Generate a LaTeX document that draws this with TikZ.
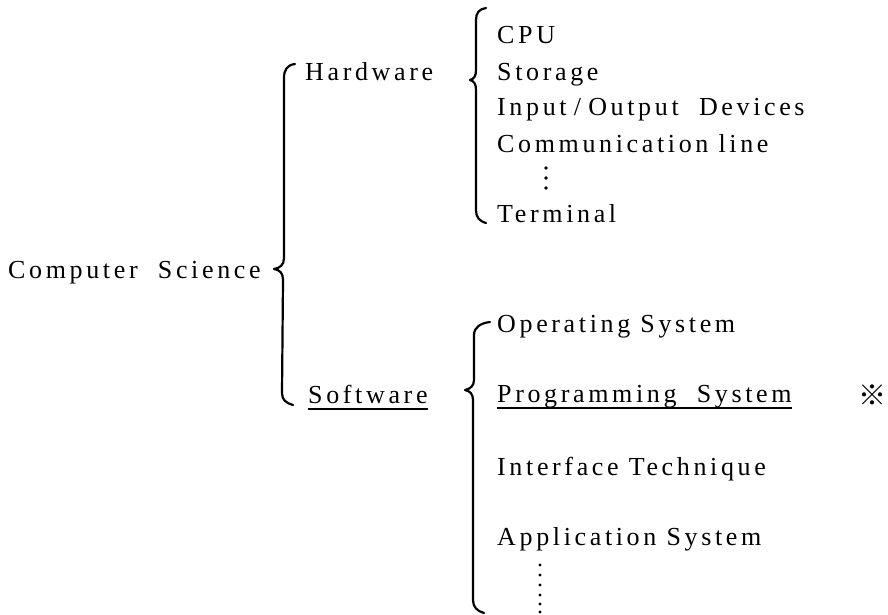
\documentclass[tikz,border=0pt]{standalone}
\usepackage{fontspec}
\setmainfont{Liberation Serif}[LetterSpace=14]
\newfontfamily\cjk{Noto Sans CJK JP}
\begin{document}
\begin{tikzpicture}[x=1pt,y=-1pt,
  lbl/.style={anchor=base west,inner sep=0pt,font=\fontsize{26}{30}\selectfont},
  brace/.style={line width=2.2pt,line cap=round,line join=round},
  uline/.style={line width=1.6pt},
  dot/.style={fill=black}]
\useasboundingbox (0,0) rectangle (888,614);
% labels
\node[lbl] (cs) at (8,278) {Computer\ \ Science};
\node[lbl] (hw) at (305,80) {Hardware};
\node[lbl] (sw) at (308,403) {Software};
\node[lbl] (cpu) at (497,43) {CPU};
\node[lbl] (st) at (497,80) {Storage};
\node[lbl] (io) at (497,115) {Input\;/\;Output\ \ Devices};
\node[lbl] (cl) at (497,152) {Communication line};
\node[lbl] (te) at (497,222) {Terminal};
\node[lbl] (os) at (497,332) {Operating System};
\node[lbl] (ps) at (497,402) {Programming\ \ System};
\node[lbl] (it) at (497,475) {Interface Technique};
\node[lbl] (as) at (497,545) {Application System};
\node[inner sep=0pt,font=\cjk\fontsize{28}{28}\selectfont] (ref) at (872,395) {※};
% vertical dots
\foreach \yy in {168,178,188} \fill[dot] (546,\yy) circle (1.8);
\foreach \yy in {565,575,585,595,604,612} \fill[dot] (540,\yy) circle (1.6);
% underlines
\draw[uline] ([yshift=-6pt]sw.base west) -- ([yshift=-6pt]sw.base east);
\draw[uline] ([yshift=-6pt]ps.base west) -- ([yshift=-6pt]ps.base east);
% braces
\draw[brace] (295,64) .. controls (287,65) and (284,70) .. (284,78) -- (284,258)
  .. controls (284,265) and (280,268) .. (274,269)
  .. controls (280,270) and (283,273) .. (283,280) -- (282,393)
  .. controls (282,400) and (286,403) .. (293,405);
\draw[brace] (486,8) .. controls (479,9) and (476,13) .. (476,20) -- (476,70)
  .. controls (476,76) and (474,79) .. (470,80)
  .. controls (474,81) and (476,84) .. (476,90) -- (476,210)
  .. controls (476,217) and (479,221) .. (486,223);
\draw[brace] (490,322) .. controls (481,323) and (474,327) .. (474,335) -- (474,380)
  .. controls (474,386) and (470,389) .. (465,390)
  .. controls (470,391) and (473,394) .. (473,400) -- (473,600)
  .. controls (473,607) and (477,611) .. (484,613);
\end{tikzpicture}
\end{document}
